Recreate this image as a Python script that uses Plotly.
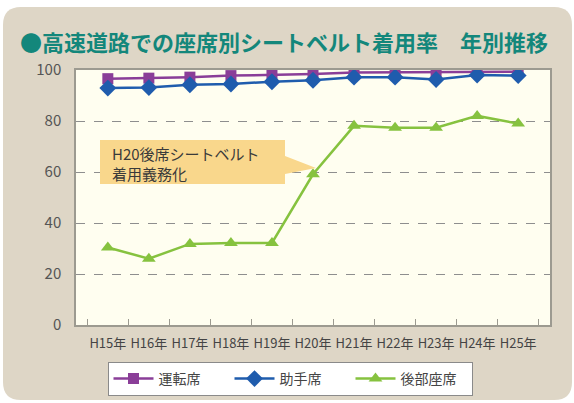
import plotly.graph_objects as go

# 年別推移 (H15〜H25), 高速道路での座席別シートベルト着用率 (%)
years = ["H15年", "H16年", "H17年", "H18年", "H19年", "H20年",
         "H21年", "H22年", "H23年", "H24年", "H25年"]
driver = [96.6, 96.8, 97.2, 97.8, 98.1, 98.4, 99.0, 99.1, 98.9, 99.2, 99.3]
passenger = [92.9, 93.1, 94.2, 94.5, 95.4, 96.0, 97.2, 97.2, 96.3, 98.0, 97.8]
rear = [30.4, 26.0, 31.8, 32.2, 32.2, 59.1, 78.1, 77.4, 77.4, 82.0, 79.0]

y_ticks = [0, 20, 40, 60, 80, 100]

TITLE = "<b>●高速道路での座席別シートベルト着用率　年別推移</b>"
NOTE = "H20後席シートベルト<br>着用義務化"

PURPLE = "#8A3E98"
BLUE = "#1F5CAD"
GREEN = "#86C23F"
TEAL = "#13877B"
PANEL = "#DED6C6"
PLOT_BG = "#FFFEF0"
FRAME = "#9C9A90"
FONT = "Noto Sans CJK JP"

# plot area in pixels: x 76..550, y 70..325
L, R, T, B = 76, 550, 70, 325


def px(x):
    return (x - L) / (R - L)


def py(y):
    return (B - y) / (B - T)


def rounded_rect(x0, y0, x1, y1, r):
    # path in paper coordinates built from pixel corners
    return (
        f"M {px(x0 + r)},{py(y0)} L {px(x1 - r)},{py(y0)} "
        f"Q {px(x1)},{py(y0)} {px(x1)},{py(y0 + r)} "
        f"L {px(x1)},{py(y1 - r)} "
        f"Q {px(x1)},{py(y1)} {px(x1 - r)},{py(y1)} "
        f"L {px(x0 + r)},{py(y1)} "
        f"Q {px(x0)},{py(y1)} {px(x0)},{py(y1 - r)} "
        f"L {px(x0)},{py(y0 + r)} "
        f"Q {px(x0)},{py(y0)} {px(x0 + r)},{py(y0)} Z"
    )


fig = go.Figure()
fig.add_scatter(
    x=years, y=driver, name="運転席", mode="lines+markers",
    line={"color": PURPLE, "width": 2.5},
    marker={"symbol": "square", "size": 11, "color": PURPLE},
)
fig.add_scatter(
    x=years, y=passenger, name="助手席", mode="lines+markers",
    line={"color": BLUE, "width": 2.5},
    marker={"symbol": "diamond", "size": 13, "color": BLUE},
)
fig.add_scatter(
    x=years, y=rear, name="後部座席", mode="lines+markers",
    line={"color": GREEN, "width": 2.5},
    marker={"symbol": "triangle-up", "size": 12, "color": GREEN},
)

# beige rounded panel, then the cream plot area on top of it
fig.add_shape(
    type="path", xref="paper", yref="paper", layer="below",
    path=rounded_rect(3, 7, 572, 400, 18),
    fillcolor=PANEL, line={"width": 0},
)
fig.add_shape(
    type="rect", xref="paper", yref="paper", layer="below",
    x0=0, x1=1, y0=0, y1=1, fillcolor=PLOT_BG, line={"width": 0},
)

# callout bubble
bubble = (
    f"M {px(100)},{py(140)} L {px(285)},{py(140)} L {px(285)},{py(156)} "
    f"L {px(316)},{py(168)} L {px(285)},{py(174)} L {px(285)},{py(184)} "
    f"L {px(100)},{py(184)} Z"
)
fig.add_shape(
    type="path", xref="paper", yref="paper", layer="above",
    path=bubble, fillcolor="#F9D78C", line={"width": 0},
)
fig.add_annotation(
    text=NOTE, xref="paper", yref="paper", x=px(110), y=py(163),
    xanchor="left", yanchor="middle", align="left", showarrow=False,
    font={"family": FONT, "size": 15, "color": "#3A3A3A"},
)

fig.add_annotation(
    text=TITLE, xref="paper", yref="paper", x=px(18), y=py(41),
    xanchor="left", yanchor="middle", showarrow=False,
    font={"family": FONT, "size": 22, "color": TEAL},
)

fig.update_layout(
    width=574, height=403,
    margin={"l": L, "r": 574 - R, "t": T, "b": 403 - B, "autoexpand": False},
    paper_bgcolor="white",
    plot_bgcolor="rgba(0,0,0,0)",
    font={"family": FONT, "color": "#444"},
    showlegend=True,
    legend={
        "orientation": "h", "x": px(290), "xanchor": "center",
        "y": py(362), "yanchor": "top",
        "bgcolor": "white", "bordercolor": "#8A8A8A", "borderwidth": 1,
        "font": {"family": FONT, "size": 14, "color": "#444"},
        "itemwidth": 40, "entrywidth": 66,
    },
    xaxis={
        "type": "category", "tickson": "boundaries", "ticks": "inside",
        "ticklen": 6, "tickcolor": FRAME, "showgrid": False, "tickangle": 0,
        "showline": True, "linecolor": FRAME, "linewidth": 1.5, "mirror": True,
        "tickfont": {"size": 13, "color": "#444"}, "automargin": False,
        "ticklabelstandoff": 6, "fixedrange": True,
    },
    yaxis={
        "range": [0, 100], "tickvals": y_ticks,
        "showgrid": True, "gridcolor": "#8E8E8E", "griddash": "dash", "gridwidth": 1,
        "showline": True, "linecolor": FRAME, "linewidth": 1.5, "mirror": True,
        "zeroline": False, "ticks": "", "ticklabelstandoff": 10,
        "tickfont": {"size": 15, "color": "#555"}, "automargin": False,
        "fixedrange": True,
    },
)

# the page body has a default 8px margin; drop it so the figure fills the window
fig.write_html(
    "out.html",
    config={"displayModeBar": False},
    post_script="document.body.style.margin = '0';",
)
